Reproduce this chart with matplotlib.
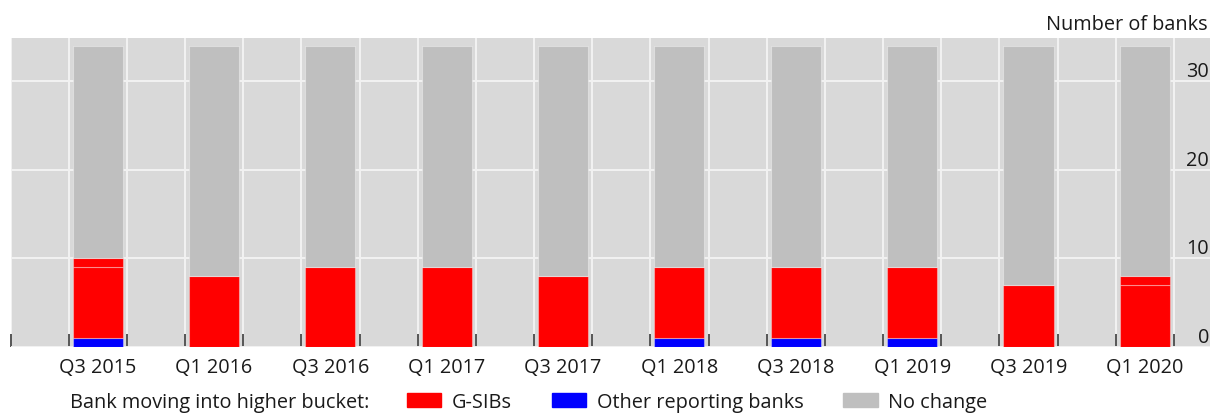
import matplotlib
matplotlib.use("Agg")
import matplotlib.pyplot as plt
import matplotlib.transforms as mtransforms
from matplotlib.patches import Patch
import numpy as np

plt.rcParams['font.family'] = ['Open Sans', 'DejaVu Sans']

# half-year review dates
categories = ["Q3 2015", "Q1 2016", "Q3 2016", "Q1 2017", "Q3 2017",
              "Q1 2018", "Q3 2018", "Q1 2019", "Q3 2019", "Q1 2020"]
# banks moving into a higher bucket
other_banks = [1, 0, 0, 0, 0, 1, 1, 1, 0, 0]
gsibs = [8, 8, 9, 9, 8, 8, 8, 8, 7, 7]
gsibs_extra = [1, 0, 0, 0, 0, 0, 0, 0, 0, 1]
# total number of reporting banks
total_banks = [34, 34, 34, 34, 34, 34, 34, 34, 34, 34]
y_ticks = [0, 10, 20, 30]

RED = "#ff0000"
BLUE = "#0000ff"
GREY = "#bfbfbf"
BG = "#d9d9d9"
TXT = "#1a1a1a"
FS = 14.3

other_banks = np.array(other_banks)
gsibs = np.array(gsibs)
gsibs_extra = np.array(gsibs_extra)
no_change = np.array(total_banks) - other_banks - gsibs - gsibs_extra

x = np.arange(len(categories))
width = 0.43

fig = plt.figure(figsize=(12.1, 4.14), dpi=100)
ax = fig.add_axes([10.5 / 1210, 1 - 348 / 414, 1 - 10.5 / 1210, (348 - 39) / 414])
ax.set_facecolor(BG)

edge = dict(edgecolor=(1, 1, 1, 0.35), linewidth=0.8, zorder=3)
ax.bar(x, other_banks, width, color=BLUE, **edge)
ax.bar(x, gsibs, width, bottom=other_banks, color=RED, **edge)
ax.bar(x, gsibs_extra, width, bottom=other_banks + gsibs, color=RED, **edge)
ax.bar(x, no_change, width, bottom=other_banks + gsibs + gsibs_extra, color=GREY, **edge)

ax.set_xlim(-0.75, 9.56)
ax.set_ylim(0, 34.9)

# quarter ticks + grid between the bars
quarter_ticks = np.arange(-0.75, len(categories) - 0.5, 0.5)
ax.set_xticks(quarter_ticks)
ax.set_xticklabels([])
ax.set_xticks(x, labels=categories, minor=True)
ax.tick_params(axis="x", which="major", direction="in", length=9.5, width=1.4,
               color="#555555")
ax.tick_params(axis="x", which="minor", length=0, pad=7, labelsize=FS,
               labelcolor=TXT)

ax.set_yticks(y_ticks)
ax.set_yticklabels([])
ax.tick_params(axis="y", length=0)
trans = mtransforms.blended_transform_factory(ax.transAxes, ax.transData)
for v in y_ticks:
    ax.annotate(str(v), xy=(1.0, v), xycoords=trans, xytext=(-1, 0),
                textcoords="offset pixels", ha="right", va="bottom",
                fontsize=FS, color=TXT)

ax.grid(True, color="#f2f2f2", linewidth=1.4)
ax.set_axisbelow(True)
for s in ax.spines.values():
    s.set_visible(False)

fig.text(1208 / 1210, 1 - 25 / 414, "Number of banks", ha="right", va="center",
         fontsize=FS, color=TXT)

fig.text(70 / 1210, 1 - 403 / 414, "Bank moving into higher bucket:", ha="left",
         va="center", fontsize=FS, color=TXT)
handles = [Patch(color=RED, label="G-SIBs"),
           Patch(color=BLUE, label="Other reporting banks"),
           Patch(color=GREY, label="No change")]
fig.legend(handles=handles, loc="center left", bbox_to_anchor=(407 / 1210, 1 - 403 / 414),
           ncol=3, frameon=False, fontsize=FS, handlelength=1.72, handleheight=0.65,
           handletextpad=0.55, columnspacing=2.0, borderpad=0, borderaxespad=0,
           labelcolor=TXT)

fig.savefig("out.png", dpi=100)
